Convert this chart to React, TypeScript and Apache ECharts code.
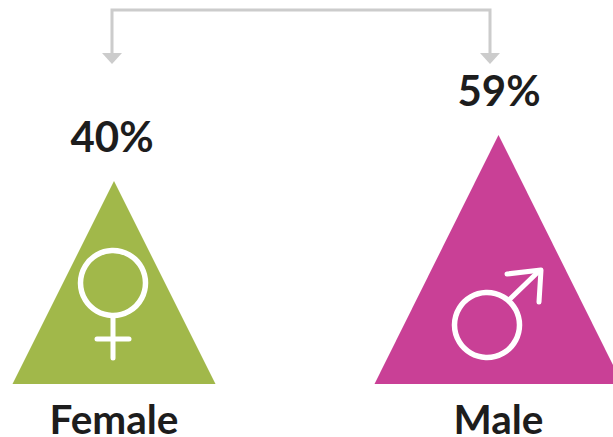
import React, { useEffect, useRef } from "react";
import * as echarts from "echarts";

const categories = ["Female", "Male"];
const shares = [40, 59];
const percentLabels = ["40%", "59%"];
const triangleColors = ["#A1B84A", "#C94096"];
const triangleWidths = [203, 248];

const WHITE = "#ffffff";
const GRAY = "#cccccc";
const INK = "#1d1d1d";
const FONT = "Lato";
const Y_MIN = -44;
const Y_MAX = 59;

export default function App() {
  const ref = useRef<HTMLDivElement>(null);
  useEffect(() => {
    document.body.style.margin = "0";
    const chart = echarts.init(ref.current!, null, { renderer: "svg" });
    const icon = { lineWidth: 5.5, stroke: WHITE, fill: "none", lineCap: "round", lineJoin: "round" };
    const thin = { ...icon, lineWidth: 5 };
    chart.setOption({
      animation: false,
      backgroundColor: "#ffffff",
      grid: { left: -78.25, width: 769, top: 135, height: 249, outerBoundsMode: "none", containLabel: false },
      xAxis: {
        type: "category",
        data: categories,
        axisLine: { show: false },
        axisTick: { show: false },
        axisLabel: { color: INK, fontFamily: FONT, fontWeight: 700, fontSize: 40.5, lineHeight: 36, margin: 16 },
      },
      yAxis: { type: "value", min: Y_MIN, max: Y_MAX, show: false },
      series: [
        {
          type: "custom",
          silent: true,
          z: 2,
          encode: { x: 0, y: 1 },
          data: shares.map((value, i) => [i, value]),
          renderItem: (params: any, api: any) => {
            const i = api.value(0);
            const apex = api.coord([i, api.value(1)]);
            const base = api.coord([i, Y_MIN]);
            const half = triangleWidths[i] / 2;
            return {
              type: "group",
              children: [
                {
                  type: "polygon",
                  shape: { points: [[base[0] - half, base[1]], [base[0] + half, base[1]], apex] },
                  style: { fill: triangleColors[i] },
                },
                {
                  type: "text",
                  style: {
                    x: apex[0] + (i === 0 ? -2 : 0.5),
                    y: apex[1] - 66,
                    text: percentLabels[i],
                    fill: INK,
                    font: `700 42px ${FONT}`,
                    textAlign: "center",
                    textVerticalAlign: "top",
                  },
                },
              ],
            };
          },
        },
      ],
      graphic: [
        { type: "polyline", z: 10, shape: { points: [[112, 54], [112, 10], [490, 10], [490, 54]] }, style: { stroke: GRAY, lineWidth: 3, fill: "none" } },
        { type: "polygon", z: 10, shape: { points: [[102, 53], [122, 53], [112, 64]] }, style: { fill: GRAY } },
        { type: "polygon", z: 10, shape: { points: [[480, 53], [500, 53], [490, 64]] }, style: { fill: GRAY } },
        { type: "circle", z: 10, shape: { cx: 113, cy: 283, r: 32.5 }, style: icon },
        { type: "line", z: 10, shape: { x1: 113, y1: 317, x2: 113, y2: 358 }, style: thin },
        { type: "line", z: 10, shape: { x1: 97, y1: 339, x2: 129, y2: 339 }, style: thin },
        { type: "circle", z: 10, shape: { cx: 487, cy: 325, r: 32.5 }, style: icon },
        { type: "line", z: 10, shape: { x1: 510, y1: 299, x2: 539, y2: 271 }, style: thin },
        { type: "polyline", z: 10, shape: { points: [[507, 274], [541, 270], [539, 302]] }, style: thin },
      ],
    });
    return () => chart.dispose();
  }, []);
  return <div ref={ref} style={{ position: "fixed", left: 0, top: 0, width: 613, height: 437 }} />;
}
